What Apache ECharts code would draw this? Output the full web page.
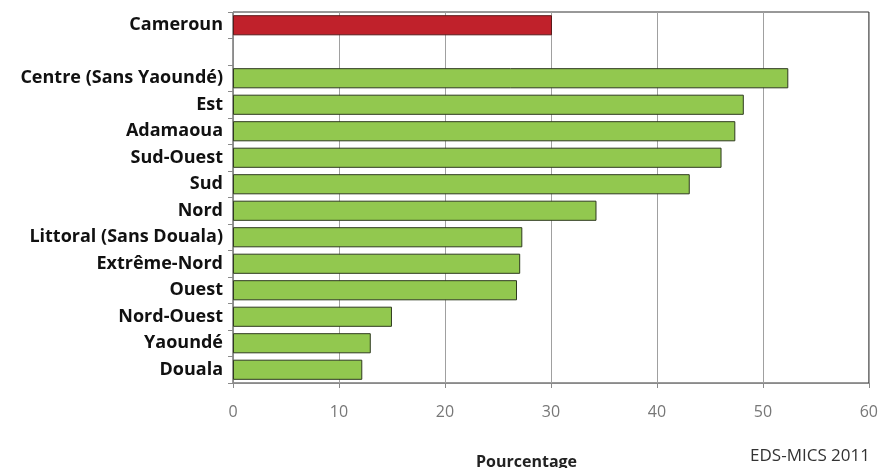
<!DOCTYPE html>
<html>
<head>
<meta charset="utf-8">
<script src="https://cdn.jsdelivr.net/npm/echarts@6/dist/echarts.min.js"></script>
<style>html,body{margin:0;padding:0;background:#fff}#c{width:881px;height:468px}</style>
</head>
<body>
<div id="c"></div>
<script>
var categories = ['Cameroun', '', 'Centre (Sans Yaoundé)', 'Est', 'Adamaoua', 'Sud-Ouest', 'Sud', 'Nord', 'Littoral (Sans Douala)', 'Extrême-Nord', 'Ouest', 'Nord-Ouest', 'Yaoundé', 'Douala'];
var values = [30.1, null, 52.4, 48.2, 47.4, 46.1, 43.1, 34.3, 27.3, 27.1, 26.8, 15.0, 13.0, 12.2];
var xTicks = [0, 10, 20, 30, 40, 50, 60];
var nationalCategory = 'Cameroun';

var FONT = '"Open Sans", "DejaVu Sans", sans-serif';
var data = values.map(function (v, i) {
  var national = categories[i] === nationalCategory;
  return {
    value: v,
    itemStyle: {
      color: national ? '#c0212b' : '#92c84f',
      borderColor: national ? '#5a1a1a' : '#2e3a1e',
      borderWidth: 1
    }
  };
});

var chart = echarts.init(document.getElementById('c'), null, {renderer: 'canvas'});
chart.setOption({
  animation: false,
  backgroundColor: '#fff',
  grid: {
    left: 233, right: 12, top: 12, bottom: 85,
    show: true, borderColor: '#333', borderWidth: 1, backgroundColor: 'transparent'
  },
  xAxis: {
    type: 'value',
    min: xTicks[0], max: xTicks[xTicks.length - 1], interval: 10,
    axisLine: {show: true, lineStyle: {color: '#8a8a8a'}},
    axisTick: {show: true, length: 5, lineStyle: {color: '#8a8a8a'}},
    splitLine: {show: true, lineStyle: {color: '#a0a0a0', width: 1}},
    axisLabel: {color: '#777', fontSize: 16, fontFamily: FONT, margin: 21}
  },
  yAxis: {
    type: 'category',
    data: categories,
    inverse: true,
    axisLine: {show: true, lineStyle: {color: '#8a8a8a'}},
    axisTick: {show: true, length: 5, lineStyle: {color: '#8a8a8a'}},
    splitLine: {show: false},
    axisLabel: {color: '#111', fontSize: 18, fontWeight: 'bold', fontFamily: FONT, margin: 10}
  },
  series: [{
    type: 'bar',
    data: data,
    barCategoryGap: '24%'
  }],
  graphic: [
    {type: 'text', left: 476, top: 454, style: {text: 'Pourcentage', font: 'bold 16px ' + FONT, fill: '#222'}},
    {type: 'text', right: 11, top: 448, style: {text: 'EDS-MICS 2011', font: '17px ' + FONT, fill: '#333'}}
  ]
});
</script>
</body>
</html>
